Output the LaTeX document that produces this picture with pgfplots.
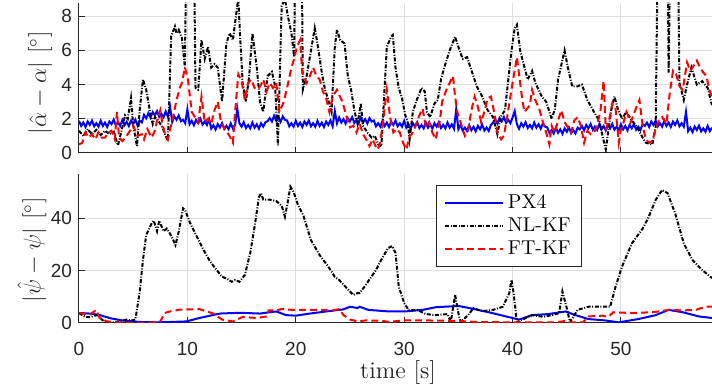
\documentclass[border=0pt]{standalone}
\usepackage{pgfplots}
\pgfplotsset{compat=1.18}
\usepackage{fontspec}
\newfontfamily\tickfont{Liberation Sans}
\definecolor{axgray}{rgb}{0.15,0.15,0.15}
\definecolor{gridgray}{rgb}{0.87,0.87,0.87}
\pgfplotsset{
  mystyle/.style={
    scale only axis, width=316.5pt,
    xmin=0, xmax=58.4,
    axis lines*=left,
    axis line style={-, axgray, line width=0.5pt},
    tick align=inside,
    major tick length=3pt,
    xtick={0,10,...,50},
    grid=major, grid style={gridgray, line width=0.5pt},
    tick style={axgray, line width=0.5pt},
    tick label style={font=\tickfont\fontsize{9.5}{10}\selectfont, text=axgray},
    /pgf/number format/assume math mode=true,
    label style={font=\large, text=axgray},
    legend image code/.code={\draw[#1] (0pt,0pt) -- (29pt,0pt);},
  },
  pxs/.style={blue, line width=1pt},
  nls/.style={black, line width=1pt, dash pattern=on 2pt off 0.8pt on 0.5pt off 0.8pt},
  fts/.style={red, line width=1pt, dash pattern=on 3.5pt off 2pt},
}
\begin{document}
\begin{tikzpicture}
\path[use as bounding box] (-39.5pt,-33.5pt) rectangle (316.5pt,161.5pt);
% ---------------- top axis ----------------
\begin{axis}[mystyle, at={(0,85pt)}, anchor=south west, height=75pt,
  ymin=0, ymax=8.77, ytick={0,2,4,6,8}, xticklabels={},
  ylabel={$|\hat{\alpha}-\alpha|$ [$^\circ$]},
  ylabel style={at={(axis description cs:-0.0616,0.467)}, anchor=center},
]
\addplot[pxs] coordinates {
(0.0,1.88)(0.2,1.58)(0.4,1.78)(0.6,1.52)(0.8,1.84)(1.0,1.64)(1.2,1.90)(1.4,1.56)(1.6,1.74)(1.8,1.54)
(2.0,1.88)(2.2,1.58)(2.4,1.78)(2.6,1.52)(2.8,1.84)(3.0,1.69)(3.2,1.95)(3.4,1.61)(3.6,1.79)(3.8,1.59)
(4.0,1.93)(4.2,1.63)(4.4,1.83)(4.6,1.57)(4.8,1.89)(5.0,1.69)(5.2,1.95)(5.4,1.61)(5.6,1.89)(5.8,1.79)
(6.0,2.23)(6.2,2.03)(6.4,2.33)(6.6,2.07)(6.8,2.39)(7.0,2.19)(7.2,2.45)(7.4,2.11)(7.6,2.29)(7.8,2.09)
(8.0,2.43)(8.2,2.13)(8.4,2.70)(8.6,1.82)(8.8,2.14)(9.0,1.94)(9.2,2.20)(9.4,1.86)(9.6,1.94)(9.8,1.74)
(10.0,2.55)(10.2,1.68)(10.4,1.88)(10.6,1.62)(10.8,1.94)(11.0,1.74)(11.2,2.00)(11.4,1.66)(11.6,1.84)(11.8,1.64)
(12.0,1.98)(12.2,1.43)(12.4,1.63)(12.6,1.37)(12.8,1.69)(13.0,1.49)(13.2,1.75)(13.4,1.41)(13.6,1.59)(13.8,1.39)
(14.0,1.73)(14.2,1.43)(14.4,1.63)(14.6,2.60)(14.8,1.74)(15.0,1.54)(15.2,1.80)(15.4,1.46)(15.6,1.64)(15.8,1.44)
(16.0,1.78)(16.2,1.48)(16.4,1.68)(16.6,1.42)(16.8,1.74)(17.0,1.54)(17.2,1.80)(17.4,1.86)(17.6,2.04)(17.8,1.84)
(18.0,2.18)(18.2,1.88)(18.4,2.08)(18.6,1.82)(18.8,2.14)(19.0,1.94)(19.2,1.90)(19.4,1.56)(19.6,1.74)(19.8,1.54)
(20.0,1.88)(20.2,1.58)(20.4,1.78)(20.6,1.52)(20.8,1.84)(21.0,1.64)(21.2,1.90)(21.4,1.56)(21.6,1.74)(21.8,1.54)
(22.0,1.88)(22.2,1.58)(22.4,1.78)(22.6,1.52)(22.8,1.84)(23.0,1.64)(23.2,1.90)(23.4,1.56)(23.6,2.45)(23.8,1.74)
(24.0,2.08)(24.2,1.78)(24.4,1.98)(24.6,1.72)(24.8,2.04)(25.0,1.84)(25.2,2.10)(25.4,1.76)(25.6,1.94)(25.8,1.74)
(26.0,2.08)(26.2,1.78)(26.4,1.98)(26.6,1.72)(26.8,2.04)(27.0,1.84)(27.2,1.90)(27.4,1.56)(27.6,1.74)(27.8,1.54)
(28.0,1.88)(28.2,1.58)(28.4,1.78)(28.6,1.52)(28.8,1.84)(29.0,1.64)(29.2,1.90)(29.4,1.56)(29.6,1.74)(29.8,1.54)
(30.0,1.88)(30.2,1.48)(30.4,1.68)(30.6,1.42)(30.8,1.74)(31.0,1.54)(31.2,1.80)(31.4,1.46)(31.6,1.64)(31.8,1.44)
(32.0,1.78)(32.2,1.48)(32.4,1.68)(32.6,1.42)(32.8,1.74)(33.0,1.54)(33.2,1.80)(33.4,1.46)(33.6,1.64)(33.8,1.44)
(34.0,1.78)(34.2,1.48)(34.4,1.68)(34.6,1.42)(34.8,2.55)(35.0,1.39)(35.2,1.65)(35.4,1.31)(35.6,1.49)(35.8,1.29)
(36.0,1.63)(36.2,1.33)(36.4,1.53)(36.6,1.27)(36.8,1.59)(37.0,1.39)(37.2,1.65)(37.4,1.31)(37.6,1.49)(37.8,1.29)
(38.0,1.63)(38.2,1.78)(38.4,1.98)(38.6,1.72)(38.8,2.04)(39.0,1.84)(39.2,2.10)(39.4,1.76)(39.6,1.94)(39.8,1.74)
(40.0,2.08)(40.2,2.45)(40.4,1.68)(40.6,1.42)(40.8,1.74)(41.0,1.54)(41.2,1.80)(41.4,1.46)(41.6,1.64)(41.8,1.44)
(42.0,1.78)(42.2,1.48)(42.4,1.68)(42.6,1.42)(42.8,1.74)(43.0,1.54)(43.2,1.50)(43.4,1.16)(43.6,1.34)(43.8,1.14)
(44.0,1.48)(44.2,1.18)(44.4,1.38)(44.6,1.12)(44.8,1.44)(45.0,1.24)(45.2,1.50)(45.4,1.16)(45.6,1.34)(45.8,1.14)
(46.0,1.48)(46.2,1.38)(46.4,1.58)(46.6,1.32)(46.8,1.64)(47.0,1.44)(47.2,1.70)(47.4,1.36)(47.6,1.54)(47.8,1.34)
(48.0,1.68)(48.2,1.38)(48.4,1.58)(48.6,1.32)(48.8,1.64)(49.0,1.44)(49.2,1.70)(49.4,1.36)(49.6,1.54)(49.8,1.34)
(50.0,1.68)(50.2,1.38)(50.4,1.58)(50.6,1.32)(50.8,1.64)(51.0,1.44)(51.2,1.70)(51.4,1.36)(51.6,1.54)(51.8,1.34)
(52.0,1.68)(52.2,1.58)(52.4,1.78)(52.6,1.52)(52.8,1.84)(53.0,1.64)(53.2,1.90)(53.4,1.56)(53.6,1.74)(53.8,1.54)
(54.0,1.88)(54.2,1.58)(54.4,1.78)(54.6,1.52)(54.8,1.84)(55.0,1.64)(55.2,1.90)(55.4,1.56)(55.6,1.74)(55.8,1.54)
(56.0,2.40)(56.2,1.28)(56.4,1.48)(56.6,1.22)(56.8,1.54)(57.0,1.34)(57.2,1.60)(57.4,1.26)(57.6,1.44)(57.8,1.24)
(58.0,1.58)(58.2,1.28)(58.4,1.48)
};
\addplot[nls] coordinates {
(0.0,1.30)(0.4,1.00)(0.8,1.40)(1.2,1.10)(1.6,1.35)(2.0,1.05)(2.4,1.30)(2.8,1.10)(3.2,1.25)(3.6,0.45)
(4.0,1.50)(4.25,2.20)(4.5,2.00)(4.8,3.20)(5.0,1.60)(5.35,0.40)(5.6,2.50)(5.9,4.30)(6.2,3.70)(6.55,2.40)
(6.8,1.70)(7.0,2.10)(7.3,1.90)(7.7,1.50)(8.0,1.00)(8.2,0.70)(8.5,6.80)(8.85,7.40)(9.0,7.00)(9.2,7.20)
(9.5,6.70)(9.77,5.00)(9.9,12.0)(10.6,12.0)(10.75,3.80)(11.0,3.70)(11.3,6.60)(11.6,5.50)(11.9,6.20)(12.2,5.00)
(12.5,5.20)(12.8,5.00)(13.2,3.00)(13.6,6.40)(13.9,7.00)(14.2,6.60)(14.6,8.60)(14.7,9.00)(14.85,7.00)(15.1,4.10)
(15.4,3.00)(15.7,4.50)(16.0,7.00)(16.4,5.00)(16.7,3.00)(17.0,2.40)(17.4,4.50)(17.8,4.75)(18.1,3.90)(18.35,0.45)
(18.7,8.60)(19.0,9.00)(19.3,7.90)(19.6,7.00)(19.85,5.60)(19.95,12.0)(20.55,12.0)(20.65,3.70)(21.0,4.50)(21.3,5.60)
(21.75,7.30)(22.0,6.40)(22.4,4.70)(22.7,3.70)(23.0,3.10)(23.3,2.40)(23.6,6.20)(23.8,7.20)(24.1,6.60)(24.5,6.40)
(24.8,4.50)(25.1,3.70)(25.4,2.50)(25.7,1.70)(26.0,2.90)(26.2,1.60)(26.6,1.20)(27.0,0.90)(27.3,1.00)(27.6,0.50)
(27.9,0.40)(28.4,6.20)(28.8,6.80)(28.95,6.90)(29.2,5.00)(29.5,3.80)(29.8,3.20)(30.1,2.20)(30.3,1.90)(30.5,0.80)
(30.8,2.40)(31.1,3.00)(31.6,3.80)(31.9,3.60)(32.1,2.40)(32.4,2.10)(32.8,2.90)(33.1,3.10)(33.4,4.30)(33.7,5.00)
(34.2,6.00)(34.7,6.80)(35.0,6.20)(35.4,5.50)(35.8,5.60)(36.2,4.85)(36.7,3.90)(37.2,3.30)(37.7,2.50)(38.2,2.10)
(38.6,1.10)(38.9,2.10)(39.3,2.50)(39.9,6.00)(40.2,7.30)(40.4,7.50)(40.7,6.00)(41.1,5.00)(41.4,4.30)(41.8,4.80)
(42.1,4.10)(42.7,3.30)(43.1,3.00)(43.6,2.00)(43.9,2.55)(44.2,4.30)(44.8,6.00)(45.1,5.00)(45.5,3.90)(46.0,3.90)
(46.4,4.00)(46.9,3.10)(47.6,2.30)(48.0,1.90)(48.3,1.00)(48.6,0.20)(49.1,2.50)(49.4,3.30)(49.7,2.60)(50.1,2.00)
(50.5,2.40)(51.0,1.90)(51.5,1.50)(52.0,0.90)(52.3,0.60)(52.9,0.50)(53.2,1.50)(53.4,12.0)(54.3,12.0)(54.4,4.70)
(54.55,12.0)(55.25,12.0)(55.4,4.10)(55.8,3.10)(56.1,4.00)(56.5,5.00)(57.0,4.00)(57.5,4.20)(58.0,3.80)(58.4,2.80)
};
\addplot[fts] coordinates {
(0.0,0.50)(0.3,0.60)(0.6,1.20)(0.9,0.90)(1.2,1.10)(1.5,0.80)(1.8,1.20)(2.1,0.90)(2.4,0.90)(2.7,1.20)
(3.0,1.30)(3.3,0.80)(3.5,2.40)(3.7,0.90)(4.0,0.70)(4.3,0.90)(4.6,1.20)(5.0,1.60)(5.4,1.00)(5.8,1.10)
(6.0,0.80)(6.3,1.40)(6.7,0.90)(7.0,1.30)(7.2,1.90)(7.5,2.50)(7.7,1.70)(7.9,1.20)(8.2,0.80)(8.6,1.90)
(9.0,3.10)(9.3,3.80)(9.5,4.10)(9.77,5.00)(10.05,4.30)(10.4,2.40)(10.7,2.10)(11.0,1.80)(11.3,3.30)(11.6,1.80)
(11.9,2.00)(12.2,1.70)(12.5,2.50)(12.8,3.00)(13.1,1.80)(13.5,1.30)(13.8,1.10)(14.2,0.60)(14.4,2.40)(14.7,4.60)
(15.0,4.20)(15.3,3.10)(15.6,4.10)(15.9,4.30)(16.2,3.80)(16.5,3.70)(16.8,4.00)(17.0,4.30)(17.3,3.60)(17.6,4.10)
(17.9,3.80)(18.2,4.10)(18.5,2.40)(18.9,3.00)(19.3,4.10)(19.6,5.00)(19.8,5.40)(20.1,6.20)(20.4,6.60)(20.6,4.70)
(21.0,4.10)(21.3,4.50)(21.6,5.00)(21.9,4.50)(22.2,4.30)(22.5,3.60)(22.8,3.20)(23.1,2.40)(23.4,3.30)(23.8,3.70)
(24.0,3.40)(24.3,3.00)(24.7,2.10)(25.0,1.50)(25.3,1.60)(25.6,1.20)(25.9,1.70)(26.2,1.10)(26.5,0.80)(26.8,0.40)
(27.1,0.80)(27.5,0.20)(27.7,0.40)(28.0,1.50)(28.4,3.70)(28.7,2.10)(29.0,1.20)(29.3,1.40)(29.6,1.20)(29.9,0.60)
(30.2,0.20)(30.5,1.00)(30.7,1.10)(31.0,1.50)(31.4,2.20)(31.7,2.60)(32.0,1.50)(32.3,1.80)(32.6,1.20)(32.9,0.80)
(33.3,1.90)(33.5,3.00)(33.9,3.70)(34.2,4.10)(34.5,4.50)(34.7,3.30)(34.9,2.40)(35.2,1.80)(35.6,1.00)(35.9,1.30)
(36.2,2.50)(36.5,3.30)(36.8,2.70)(37.1,1.80)(37.4,2.40)(37.7,3.20)(38.0,3.30)(38.3,2.40)(38.6,1.20)(38.95,0.80)
(39.2,1.00)(39.5,2.10)(39.9,3.70)(40.4,5.60)(40.6,4.60)(40.9,3.10)(41.1,2.40)(41.6,2.80)(41.8,3.70)(42.1,3.10)
(42.5,2.50)(42.8,1.80)(43.1,1.20)(43.4,0.50)(43.6,1.60)(43.9,1.20)(44.2,1.90)(44.5,2.50)(44.8,1.80)(45.1,1.50)
(45.4,1.20)(45.7,1.90)(46.0,2.10)(46.3,1.60)(46.6,0.60)(46.9,1.30)(47.2,1.10)(47.6,1.30)(47.8,1.70)(48.1,2.40)
(48.4,4.20)(48.6,1.40)(48.9,1.90)(49.2,2.90)(49.5,2.60)(49.8,0.60)(50.0,1.40)(50.2,1.70)(50.5,2.40)(50.9,1.80)
(51.2,2.30)(51.5,2.80)(51.7,3.10)(52.0,1.60)(52.3,0.80)(52.6,0.60)(52.9,0.70)(53.2,1.40)(53.5,1.90)(53.8,2.10)
(54.2,1.70)(54.5,3.50)(54.8,4.80)(55.1,4.60)(55.4,3.90)(55.7,3.70)(56.1,5.30)(56.4,4.80)(56.7,5.10)(57.0,5.40)
(57.3,5.00)(57.6,4.70)(57.9,4.50)(58.1,3.80)(58.4,3.30)
};
\end{axis}
% ---------------- bottom axis ----------------
\begin{axis}[mystyle, at={(0,0)}, anchor=south west, height=74.5pt,
  ymin=0, ymax=56.8, ytick={0,20,40},
  xticklabel style={yshift=-6pt},
  xlabel={time [s]},
  xlabel style={at={(axis description cs:0.504,0)}, anchor=center, yshift=-25pt},
  ylabel={$|\hat{\psi}-\psi|$ [$^\circ$]},
  ylabel style={at={(axis description cs:-0.0743,0.49)}, anchor=center},
  legend style={at={(rel axis cs:0.795,0.926)}, anchor=north east, draw=axgray,
    fill=white, font=\normalsize, line width=0.5pt, row sep=0pt,
    inner xsep=3.5pt, inner ysep=3pt,
    nodes={inner xsep=2pt, inner ysep=1.5pt, text height=7pt, text depth=1.5pt}},
  legend cell align=left,
]
\addplot[pxs] coordinates {
(0,3.8)(1.0,3.6)(1.9,3.05)(2.9,1.8)(4.1,0.9)(5.6,0.4)(7.4,0.25)(9.9,0.6)(11.1,1.9)(13.0,3.6)
(14.8,3.9)(16.7,3.6)(18.2,4.4)(19.1,3.0)(20.0,2.8)(21.3,3.6)(22.8,4.4)(24.4,5.2)(25.0,6.2)(25.7,5.7)
(25.9,6.2)(26.7,5.0)(28.6,4.4)(30.1,4.4)(31.7,5.0)(32.9,6.0)(35.0,6.5)(36.0,5.7)(37.8,4.1)(39.4,2.5)
(40.6,1.3)(41.8,3.0)(43.3,3.4)(44.9,4.4)(45.8,3.0)(47.0,1.5)(48.5,1.0)(49.8,0.25)(51.6,1.5)(53.2,3.0)
(54.4,5.0)(55.7,4.1)(57.2,2.5)(58.4,1.9)
};
\addlegendentry{PX4}
\addplot[nls] coordinates {
(0,3.8)(0.55,2.4)(1.0,2.2)(1.4,2.8)(1.8,3.0)(2.1,1.3)(2.6,0.0)(3.2,0.3)(3.8,0.6)(4.4,1.3)
(4.8,0.9)(5.2,1.3)(5.6,11.8)(5.9,24.0)(6.2,33.5)(6.7,38.0)(6.9,39.0)(7.2,35.0)(7.4,39.0)(7.8,35.0)
(8.1,36.0)(8.4,34.0)(8.7,31.6)(8.9,29.7)(9.2,34.8)(9.6,43.7)(9.8,43.0)(10.2,38.6)(10.8,33.5)(11.5,27.8)
(12.1,23.4)(12.7,20.2)(13.2,17.6)(13.6,17.0)(14.1,15.7)(14.4,16.4)(14.8,15.7)(15.3,18.3)(15.8,26.7)(16.2,36.7)
(16.6,48.0)(16.8,49.5)(17.0,47.0)(17.6,47.0)(18.2,46.5)(18.7,44.7)(19.0,40.5)(19.3,47.0)(19.5,52.0)(19.8,50.0)
(20.2,45.0)(20.7,41.0)(21.4,31.6)(22.2,25.9)(23.0,21.5)(23.6,17.6)(24.0,16.4)(24.7,13.3)(25.3,10.7)(25.7,11.4)
(25.9,11.4)(26.45,14.5)(27.4,20.2)(27.8,23.4)(28.5,28.5)(28.9,29.3)(29.2,26.7)(29.5,13.8)(30.0,7.6)(30.4,5.0)
(31.2,5.0)(32.0,3.4)(32.9,3.0)(34.0,3.4)(34.3,0.3)(34.7,10.7)(35.0,3.8)(35.2,0.3)(35.9,3.0)(36.4,5.7)
(37.2,4.5)(38.2,5.0)(39.1,6.2)(39.7,11.4)(39.9,16.5)(40.1,11.4)(40.4,0.3)(40.9,1.3)(41.8,3.0)(42.8,2.4)
(43.7,3.0)(44.3,3.8)(44.6,12.0)(45.0,5.7)(45.3,0.3)(46.0,5.0)(47.0,6.2)(48.3,6.2)(49.0,6.2)(49.5,13.8)
(50.1,21.5)(51.0,30.3)(52.0,36.0)(52.5,39.9)(53.2,46.9)(53.8,50.7)(54.3,49.5)(55.0,41.8)(55.8,30.3)(56.6,24.0)
(57.5,20.2)(58.4,17.1)
};
\addlegendentry{NL-KF}
\addplot[fts] coordinates {
(0,3.8)(1.0,3.2)(1.6,5.0)(1.9,1.9)(2.6,0.6)(3.5,0.25)(5.0,0.0)(6.5,0.1)(7.5,0.6)(7.9,3.8)
(8.4,4.4)(9.3,5.1)(11.1,5.3)(12.4,3.6)(13.2,1.3)(14.2,0.6)(15.1,2.3)(16.4,1.9)(17.3,2.5)(17.5,4.8)
(18.2,4.8)(18.7,5.3)(19.7,5.0)(21.6,5.0)(23.4,4.8)(24.0,5.3)(24.4,3.0)(25.0,1.3)(25.7,0.6)(26.5,1.0)
(28.0,0.8)(28.6,0.4)(29.9,1.0)(31.7,1.0)(34.8,0.8)(36.6,0.4)(39.4,0.25)(44.0,0.25)(44.9,0.8)(45.4,0.25)
(46.5,0.25)(47.0,2.5)(48.3,2.8)(48.8,2.3)(49.3,4.1)(51.0,3.8)(52.9,4.1)(53.5,4.4)(54.4,5.0)(55.7,4.8)
(56.9,5.0)(57.8,6.2)(58.4,6.2)
};
\addlegendentry{FT-KF}
\end{axis}
\end{tikzpicture}
\end{document}
